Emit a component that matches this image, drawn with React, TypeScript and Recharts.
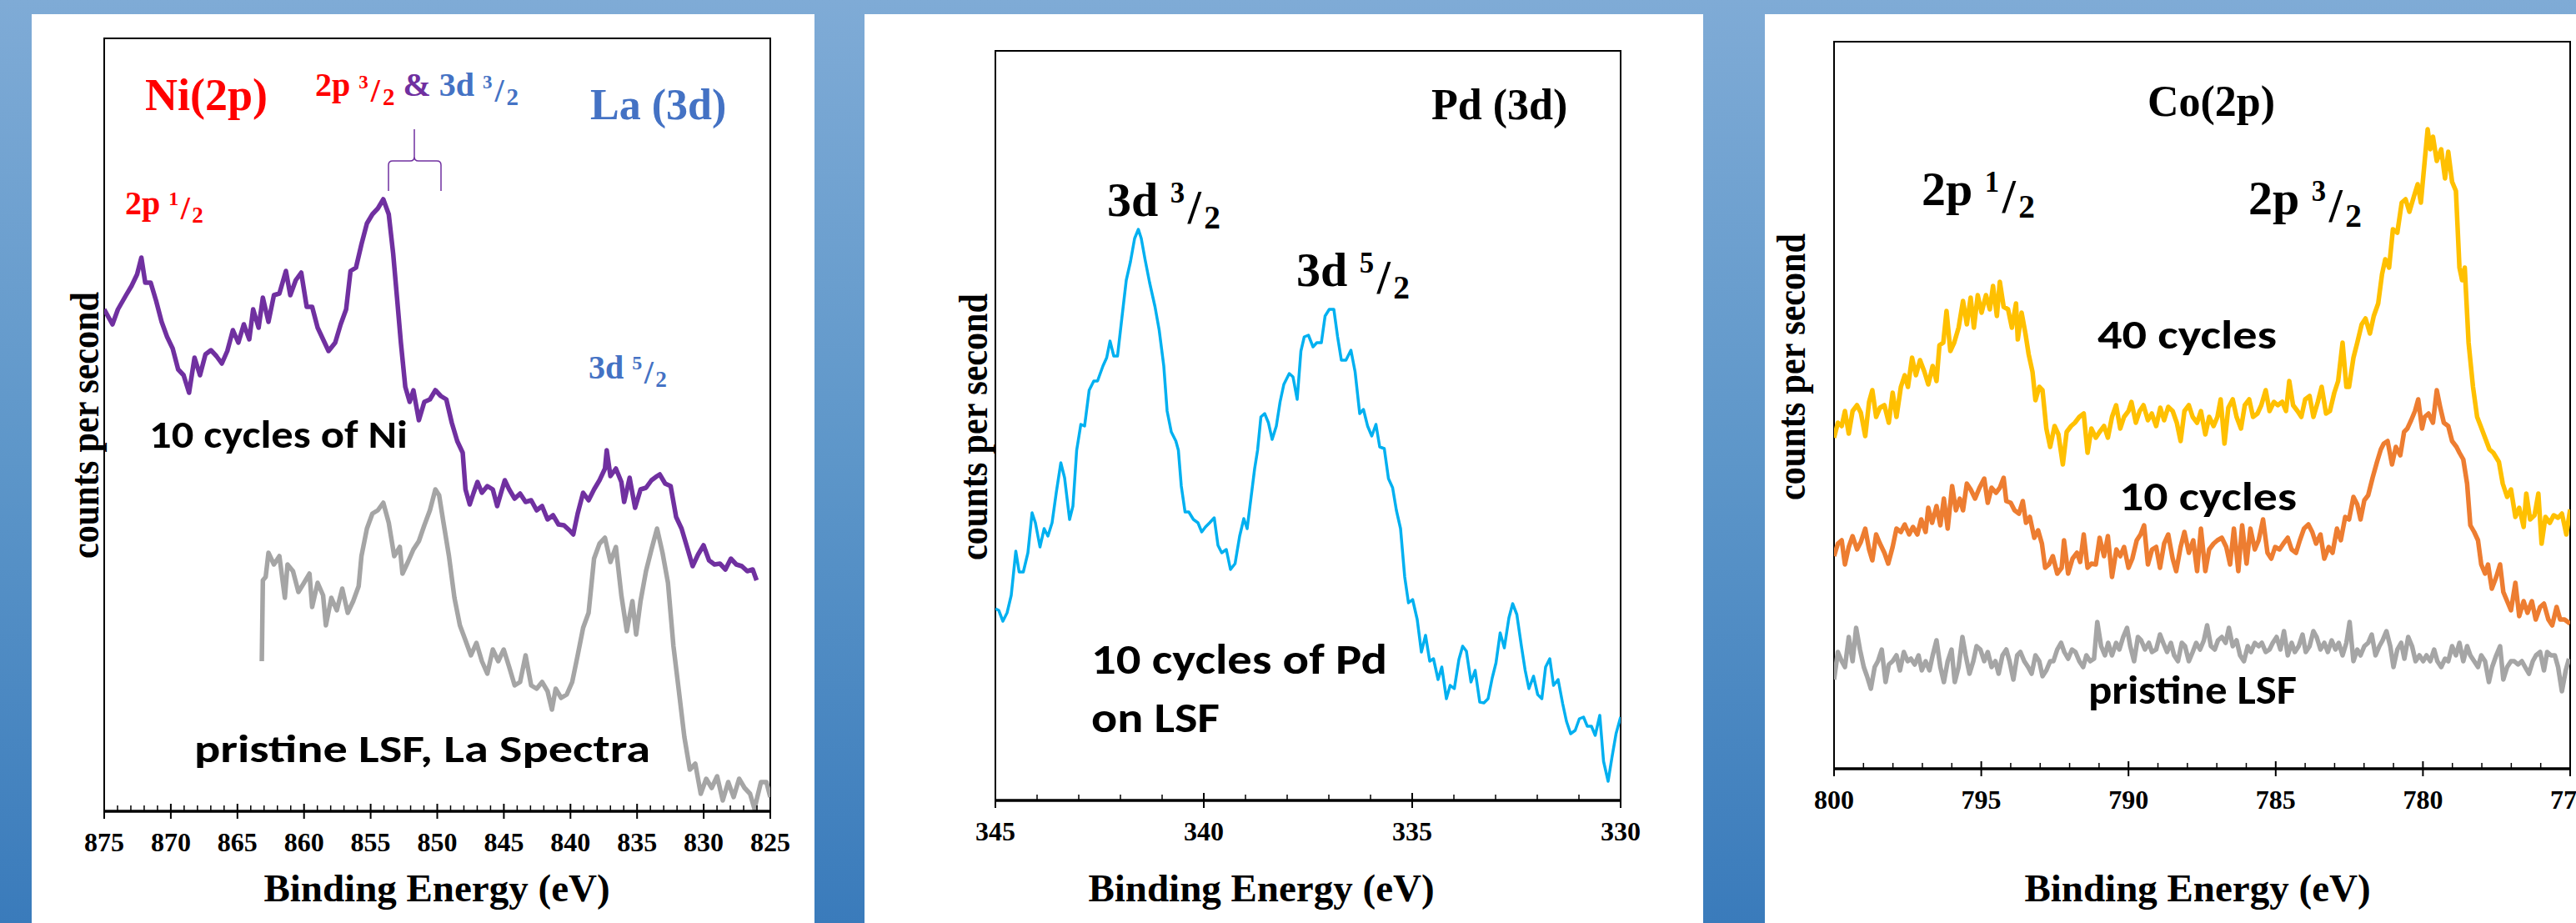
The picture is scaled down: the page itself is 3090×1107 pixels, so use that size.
import React from "react";
import { LineChart, Line, XAxis, YAxis, ReferenceArea } from "recharts";

const SERIF = "'Liberation Serif', 'Times New Roman', serif";
const SANS = "Carlito, Calibri, Lato, 'Open Sans', sans-serif";
const RED = "#FF0000";
const BLUE = "#4472C4";
const PURPLE = "#7030A0";

// [binding energy (eV), counts]
const niCycles: [number, number][] = [
  [875.0, 602], [874.38, 584], [873.97, 602], [873.36, 619], [872.95, 630], [872.53, 644], [872.21, 664],
  [871.92, 634], [871.51, 634], [871.1, 612], [870.69, 587], [870.28, 569], [869.86, 555], [869.45, 530],
  [869.04, 523], [868.63, 502], [868.22, 544], [867.81, 523], [867.4, 548], [866.99, 553], [866.58, 546],
  [866.17, 537], [865.76, 552], [865.34, 577], [864.93, 562], [864.52, 584], [864.11, 566], [863.82, 602],
  [863.41, 580], [863.09, 616], [862.67, 587], [862.26, 619], [861.85, 621], [861.36, 648], [861.03, 619],
  [860.62, 637], [860.21, 646], [859.8, 605], [859.39, 605], [858.98, 580], [858.57, 566], [858.16, 552],
  [857.66, 562], [857.25, 584], [856.84, 602], [856.51, 648], [856.1, 652], [855.69, 680], [855.28, 705],
  [854.87, 716], [854.46, 723], [854.05, 734], [853.64, 716], [853.31, 669], [853.02, 616], [852.73, 562],
  [852.4, 509], [852.07, 491], [851.79, 505], [851.38, 469], [850.97, 491], [850.55, 494], [850.14, 505],
  [849.73, 498], [849.32, 494], [848.91, 466], [848.5, 444], [848.09, 430], [847.88, 386], [847.56, 368],
  [847.27, 382], [846.98, 395], [846.65, 382], [846.24, 390], [845.83, 386], [845.5, 366], [845.21, 382],
  [844.93, 397], [844.6, 386], [844.19, 375], [843.78, 381], [843.37, 371], [842.95, 373], [842.54, 361],
  [842.13, 366], [841.72, 350], [841.31, 355], [840.9, 344], [840.49, 343], [840.08, 337], [839.79, 332],
  [839.46, 357], [839.05, 382], [838.64, 373], [838.23, 386], [837.82, 397], [837.41, 411], [837.28, 433],
  [837.0, 402], [836.59, 411], [836.18, 395], [835.97, 371], [835.56, 400], [835.15, 364], [834.74, 386],
  [834.33, 388], [833.92, 397], [833.5, 402], [833.3, 404], [832.89, 393], [832.48, 390], [832.07, 353],
  [831.66, 339], [831.25, 317], [830.83, 294], [830.42, 308], [830.01, 319], [829.6, 301], [829.19, 296],
  [828.78, 297], [828.37, 290], [827.96, 303], [827.55, 296], [827.14, 294], [826.73, 288], [826.32, 290],
  [826.03, 277],
];

const laPristine: [number, number][] = [
  [863.17, 180], [863.09, 277], [862.88, 281], [862.67, 310], [862.26, 296], [861.85, 306], [861.44, 256],
  [861.24, 296], [860.83, 288], [860.42, 263], [860.0, 274], [859.59, 285], [859.39, 245], [858.98, 274],
  [858.57, 259], [858.36, 223], [857.95, 256], [857.54, 241], [857.13, 267], [856.72, 238], [856.31, 252],
  [855.9, 270], [855.69, 306], [855.28, 339], [854.87, 357], [854.46, 361], [854.05, 370], [853.64, 346],
  [853.23, 306], [852.81, 317], [852.61, 285], [852.2, 299], [851.79, 314], [851.38, 324], [850.97, 343],
  [850.55, 361], [850.14, 386], [849.86, 379], [849.53, 346], [849.12, 306], [848.71, 256], [848.3, 223],
  [847.88, 205], [847.47, 187], [847.06, 202], [846.65, 180], [846.24, 165], [845.83, 194], [845.42, 180],
  [845.01, 194], [844.6, 173], [844.19, 151], [843.78, 155], [843.37, 187], [842.95, 151], [842.54, 147],
  [842.13, 155], [841.72, 144], [841.39, 122], [841.11, 147], [840.7, 136], [840.28, 140], [839.87, 155],
  [839.46, 187], [839.05, 220], [838.64, 238], [838.23, 303], [837.82, 321], [837.41, 328], [837.0, 299],
  [836.59, 317], [836.18, 259], [835.77, 216], [835.35, 252], [835.07, 212], [834.74, 252], [834.33, 288],
  [833.92, 314], [833.5, 339], [833.09, 310], [832.68, 274], [832.27, 198], [831.86, 144], [831.45, 89],
  [831.04, 50], [830.63, 57], [830.22, 21], [829.81, 39], [829.4, 28], [828.99, 42], [828.57, 13],
  [828.16, 35], [827.75, 17], [827.34, 39], [826.93, 28], [826.52, 21], [826.19, 3], [825.7, 35],
  [825.29, 35], [825.0, 17],
];

const pdCycles: [number, number][] = [
  [345.0, 230], [344.92, 228], [344.82, 215], [344.72, 225], [344.62, 246], [344.51, 299], [344.43, 274],
  [344.33, 274], [344.22, 297], [344.12, 345], [344.04, 333], [343.93, 304], [343.83, 326], [343.74, 317],
  [343.64, 333], [343.54, 369], [343.43, 405], [343.34, 387], [343.22, 337], [343.14, 353], [343.05, 420],
  [342.95, 451], [342.86, 449], [342.75, 492], [342.64, 503], [342.55, 503], [342.42, 521], [342.33, 531],
  [342.25, 551], [342.16, 533], [342.07, 533], [341.96, 581], [341.86, 624], [341.76, 646], [341.66, 674],
  [341.57, 685], [341.5, 674], [341.41, 649], [341.3, 621], [341.17, 592], [341.07, 564], [340.96, 521],
  [340.88, 467], [340.78, 442], [340.67, 431], [340.61, 420], [340.54, 377], [340.45, 346], [340.36, 346],
  [340.25, 337], [340.14, 333], [340.05, 322], [339.96, 328], [339.86, 333], [339.75, 339], [339.66, 306],
  [339.57, 297], [339.46, 301], [339.36, 277], [339.25, 284], [339.14, 317], [339.04, 338], [338.96, 326],
  [338.87, 362], [338.78, 398], [338.71, 420], [338.63, 460], [338.54, 464], [338.45, 453], [338.36, 433],
  [338.26, 449], [338.17, 478], [338.08, 499], [337.95, 512], [337.86, 508], [337.76, 481], [337.67, 539],
  [337.59, 556], [337.49, 558], [337.38, 544], [337.29, 549], [337.18, 549], [337.09, 581], [336.99, 589],
  [336.88, 589], [336.79, 556], [336.7, 528], [336.59, 528], [336.47, 540], [336.37, 514], [336.26, 464],
  [336.17, 469], [336.07, 449], [335.97, 437], [335.87, 451], [335.78, 424], [335.67, 422], [335.57, 386],
  [335.47, 375], [335.38, 348], [335.28, 326], [335.18, 268], [335.09, 237], [334.99, 241], [334.88, 217],
  [334.78, 178], [334.68, 198], [334.58, 167], [334.49, 170], [334.38, 145], [334.29, 160], [334.18, 122],
  [334.09, 138], [333.99, 134], [333.88, 169], [333.79, 185], [333.7, 179], [333.59, 142], [333.49, 156],
  [333.38, 118], [333.28, 117], [333.18, 122], [333.08, 147], [332.99, 165], [332.89, 201], [332.79, 183],
  [332.68, 219], [332.59, 236], [332.49, 223], [332.38, 185], [332.29, 156], [332.2, 134], [332.09, 149],
  [331.99, 127], [331.89, 122], [331.8, 160], [331.7, 170], [331.61, 138], [331.5, 145], [331.39, 116],
  [331.3, 95], [331.2, 80], [331.09, 84], [330.99, 98], [330.89, 100], [330.8, 89], [330.7, 89],
  [330.61, 78], [330.5, 102], [330.41, 47], [330.3, 23], [330.21, 51], [330.11, 80], [330.0, 100],
];

const co40: [number, number][] = [
  [800.0, 397], [799.87, 415], [799.74, 411], [799.63, 429], [799.5, 402], [799.37, 429], [799.22, 436],
  [799.09, 427], [798.94, 399], [798.81, 440], [798.7, 454], [798.57, 422], [798.44, 433], [798.29, 436],
  [798.14, 415], [798.01, 451], [797.88, 422], [797.73, 458], [797.6, 472], [797.49, 458], [797.35, 493],
  [797.22, 472], [797.08, 490], [796.93, 476], [796.8, 461], [796.65, 483], [796.52, 465], [796.42, 508],
  [796.29, 511], [796.18, 549], [796.05, 501], [795.92, 511], [795.77, 529], [795.62, 561], [795.49, 533],
  [795.36, 565], [795.25, 529], [795.12, 568], [794.99, 547], [794.84, 568], [794.71, 551], [794.6, 579],
  [794.47, 543], [794.37, 584], [794.24, 554], [794.09, 551], [793.96, 529], [793.82, 558], [793.76, 515],
  [793.63, 547], [793.5, 522], [793.39, 497], [793.26, 476], [793.16, 442], [793.03, 458], [792.92, 454],
  [792.79, 408], [792.66, 386], [792.51, 411], [792.38, 401], [792.23, 365], [792.1, 404], [791.95, 411],
  [791.82, 415], [791.67, 422], [791.52, 426], [791.39, 379], [791.26, 408], [791.11, 397], [790.98, 404],
  [790.83, 411], [790.7, 397], [790.56, 422], [790.42, 436], [790.28, 408], [790.15, 422], [790.0, 429],
  [789.9, 440], [789.75, 415], [789.62, 429], [789.49, 436], [789.34, 418], [789.21, 426], [789.06, 411],
  [788.92, 433], [788.79, 418], [788.65, 434], [788.5, 429], [788.36, 415], [788.23, 393], [788.1, 429],
  [787.95, 436], [787.82, 422], [787.67, 415], [787.54, 429], [787.39, 401], [787.26, 422], [787.11, 411],
  [786.98, 422], [786.87, 443], [786.74, 390], [786.61, 433], [786.46, 443], [786.33, 422], [786.18, 408],
  [786.05, 436], [785.9, 443], [785.77, 422], [785.62, 426], [785.49, 436], [785.34, 454], [785.21, 429],
  [785.06, 440], [784.93, 436], [784.78, 440], [784.65, 429], [784.54, 465], [784.41, 436], [784.26, 429],
  [784.13, 422], [784.0, 443], [783.85, 447], [783.72, 422], [783.57, 440], [783.44, 458], [783.29, 426],
  [783.16, 429], [783.01, 451], [782.88, 465], [782.73, 511], [782.6, 458], [782.51, 458], [782.36, 493],
  [782.23, 511], [782.08, 533], [781.95, 540], [781.8, 522], [781.67, 543], [781.52, 558], [781.39, 593],
  [781.28, 611], [781.15, 601], [781.02, 647], [780.87, 643], [780.72, 679], [780.59, 683], [780.46, 668],
  [780.31, 686], [780.18, 701], [780.07, 679], [779.94, 729], [779.84, 767], [779.75, 743], [779.66, 758],
  [779.53, 729], [779.38, 743], [779.25, 708], [779.14, 740], [779.01, 704], [778.88, 693], [778.76, 601],
  [778.67, 586], [778.58, 601], [778.45, 511], [778.3, 458], [778.16, 422], [778.04, 411], [777.89, 397],
  [777.74, 383], [777.61, 379], [777.42, 368], [777.29, 342], [777.14, 326], [777.01, 335], [776.86, 302],
  [776.73, 313], [776.58, 290], [776.49, 330], [776.36, 299], [776.21, 304], [776.08, 330], [775.97, 270],
  [775.84, 302], [775.69, 295], [775.56, 304], [775.41, 301], [775.28, 306], [775.13, 281], [775.0, 311],
];

const co10: [number, number][] = [
  [800.0, 255], [799.87, 270], [799.74, 274], [799.63, 245], [799.5, 266], [799.37, 279], [799.22, 263],
  [799.09, 272], [798.94, 288], [798.81, 263], [798.7, 250], [798.57, 281], [798.44, 270], [798.29, 259],
  [798.16, 246], [798.01, 266], [797.88, 288], [797.73, 284], [797.6, 293], [797.45, 281], [797.32, 290],
  [797.17, 281], [797.04, 299], [796.89, 284], [796.8, 313], [796.67, 295], [796.52, 315], [796.39, 292],
  [796.27, 324], [796.14, 288], [795.99, 339], [795.86, 310], [795.73, 324], [795.62, 310], [795.49, 342],
  [795.36, 335], [795.21, 324], [795.06, 337], [794.9, 348], [794.78, 319], [794.65, 337], [794.5, 331],
  [794.37, 337], [794.24, 349], [794.15, 321], [794.0, 319], [793.87, 310], [793.72, 306], [793.59, 321],
  [793.48, 295], [793.35, 302], [793.2, 277], [793.07, 286], [792.94, 270], [792.83, 241], [792.7, 245],
  [792.57, 255], [792.42, 234], [792.27, 241], [792.19, 274], [792.05, 234], [791.9, 252], [791.75, 259],
  [791.64, 248], [791.52, 281], [791.39, 241], [791.26, 246], [791.11, 245], [790.98, 277], [790.83, 255],
  [790.7, 279], [790.56, 230], [790.41, 263], [790.28, 255], [790.15, 266], [790.0, 241], [789.87, 252],
  [789.72, 274], [789.59, 281], [789.47, 292], [789.34, 245], [789.2, 263], [789.06, 266], [788.93, 241],
  [788.79, 270], [788.65, 281], [788.5, 252], [788.38, 237], [788.23, 266], [788.1, 284], [787.95, 259],
  [787.8, 274], [787.67, 237], [787.54, 288], [787.39, 237], [787.26, 263], [787.11, 270], [786.98, 274],
  [786.83, 277], [786.68, 266], [786.55, 245], [786.42, 288], [786.27, 237], [786.14, 292], [785.99, 246],
  [785.86, 288], [785.71, 263], [785.58, 274], [785.43, 299], [785.28, 259], [785.15, 252], [785.02, 266],
  [784.87, 263], [784.74, 270], [784.59, 277], [784.46, 263], [784.31, 259], [784.18, 274], [784.04, 288],
  [783.89, 293], [783.76, 284], [783.63, 270], [783.48, 281], [783.35, 252], [783.2, 266], [783.07, 259],
  [782.92, 288], [782.79, 274], [782.64, 302], [782.51, 299], [782.36, 326], [782.23, 317], [782.12, 299],
  [781.99, 322], [781.86, 328], [781.71, 349], [781.56, 368], [781.43, 383], [781.33, 390], [781.2, 393],
  [781.05, 365], [780.92, 386], [780.77, 376], [780.64, 404], [780.53, 408], [780.4, 418], [780.27, 429],
  [780.16, 443], [780.03, 408], [779.94, 422], [779.81, 426], [779.66, 415], [779.53, 454], [779.41, 433],
  [779.29, 415], [779.14, 411], [779.01, 393], [778.86, 386], [778.76, 379], [778.63, 371], [778.5, 342],
  [778.39, 292], [778.26, 284], [778.13, 274], [778.02, 245], [777.89, 234], [777.79, 245], [777.66, 216],
  [777.51, 230], [777.38, 245], [777.27, 212], [777.14, 201], [777.01, 190], [776.86, 223], [776.73, 183],
  [776.58, 201], [776.45, 187], [776.3, 201], [776.17, 179], [776.02, 194], [775.89, 198], [775.74, 179],
  [775.61, 172], [775.46, 194], [775.34, 179], [775.19, 179], [775.0, 174],
];

const coPristine: [number, number][] = [
  [800.0, 107], [799.87, 140], [799.74, 129], [799.63, 122], [799.5, 158], [799.37, 129], [799.25, 169],
  [799.12, 143], [798.99, 122], [798.88, 111], [798.75, 96], [798.62, 122], [798.51, 129], [798.38, 143],
  [798.25, 104], [798.14, 125], [798.01, 129], [797.88, 136], [797.76, 118], [797.63, 140], [797.5, 129],
  [797.39, 132], [797.26, 125], [797.13, 136], [797.02, 118], [796.89, 129], [796.76, 118], [796.65, 136],
  [796.52, 154], [796.39, 122], [796.27, 104], [796.14, 129], [796.01, 143], [795.9, 104], [795.77, 122],
  [795.64, 158], [795.53, 136], [795.4, 114], [795.27, 129], [795.16, 147], [795.03, 143], [794.9, 129],
  [794.78, 140], [794.65, 122], [794.52, 129], [794.41, 114], [794.28, 136], [794.15, 143], [794.04, 129],
  [793.91, 107], [793.78, 136], [793.67, 140], [793.54, 129], [793.41, 122], [793.29, 114], [793.16, 136],
  [793.03, 129], [792.92, 111], [792.79, 118], [792.66, 129], [792.55, 129], [792.42, 143], [792.29, 151],
  [792.18, 140], [792.05, 132], [791.92, 143], [791.8, 140], [791.67, 129], [791.54, 122], [791.43, 136],
  [791.3, 129], [791.17, 132], [791.06, 176], [790.93, 147], [790.8, 136], [790.69, 151], [790.56, 136],
  [790.42, 151], [790.31, 143], [790.18, 158], [790.05, 169], [789.94, 147], [789.81, 129], [789.68, 158],
  [789.57, 154], [789.44, 143], [789.31, 151], [789.2, 140], [789.06, 143], [788.93, 161], [788.82, 151],
  [788.69, 140], [788.56, 151], [788.45, 136], [788.32, 129], [788.19, 151], [788.08, 147], [787.95, 129],
  [787.82, 140], [787.7, 151], [787.57, 143], [787.44, 154], [787.33, 172], [787.2, 147], [787.07, 143],
  [786.96, 154], [786.83, 158], [786.7, 151], [786.59, 169], [786.46, 147], [786.33, 154], [786.21, 136],
  [786.08, 129], [785.95, 147], [785.84, 140], [785.71, 151], [785.58, 147], [785.47, 151], [785.34, 140],
  [785.21, 143], [785.1, 151], [784.97, 158], [784.84, 143], [784.72, 165], [784.59, 136], [784.46, 151],
  [784.35, 140], [784.22, 147], [784.09, 161], [783.98, 140], [783.85, 147], [783.72, 165], [783.61, 158],
  [783.48, 143], [783.35, 151], [783.23, 140], [783.1, 154], [782.97, 143], [782.86, 151], [782.73, 136],
  [782.6, 151], [782.49, 176], [782.36, 129], [782.23, 143], [782.12, 136], [781.99, 147], [781.86, 151],
  [781.74, 161], [781.61, 136], [781.48, 147], [781.37, 154], [781.24, 165], [781.11, 147], [781.0, 122],
  [780.87, 143], [780.74, 151], [780.63, 132], [780.5, 158], [780.37, 147], [780.25, 129], [780.12, 136],
  [779.99, 129], [779.88, 136], [779.75, 129], [779.62, 143], [779.51, 129], [779.38, 122], [779.25, 132],
  [779.14, 129], [779.01, 147], [778.88, 136], [778.76, 151], [778.63, 129], [778.5, 147], [778.39, 136],
  [778.26, 129], [778.13, 122], [778.02, 136], [777.89, 129], [777.76, 104], [777.65, 122], [777.51, 136],
  [777.38, 147], [777.27, 107], [777.14, 122], [777.01, 129], [776.9, 129], [776.77, 125], [776.64, 129],
  [776.53, 122], [776.4, 114], [776.27, 129], [776.16, 136], [776.02, 140], [775.89, 118], [775.78, 140],
  [775.65, 136], [775.52, 136], [775.41, 122], [775.28, 93], [775.15, 118], [775.04, 132],
];

const niMajorTicks = [875, 870, 865, 860, 855, 850, 845, 840, 835, 830, 825];
const pdMajorTicks = [345, 340, 335, 330];
const coMajorTicks = [800, 795, 790, 785, 780, 775];

// minor ticks every 1 eV between the labelled ones
const everyEv = (major: number[]) => {
  const lo = Math.min(...major);
  const hi = Math.max(...major);
  return Array.from({ length: hi - lo + 1 }, (_, i) => lo + i);
};

const rows = (pts: [number, number][]) => pts.map(([ev, cps]) => ({ ev, cps }));

function EvTick(props: any) {
  const { x, y, payload } = props;
  const v = payload.value;
  if (v % 5 !== 0) {
    return <line x1={x} x2={x} y1={y - 7} y2={y} stroke="#000" strokeWidth={1.5} />;
  }
  return (
    <g>
      <line x1={x} x2={x} y1={y - 9} y2={y + 9} stroke="#000" strokeWidth={2} />
      <text x={x} y={y + 48} textAnchor="middle" fontFamily={SERIF} fontWeight="bold" fontSize={32} fill="#000">
        {v}
      </text>
    </g>
  );
}

// e.g. "3d" followed by 3/2 as superscript / subscript
function Level({ x, y, size, shell, num, den, fill = "#000" }: any) {
  return (
    <text x={x} y={y} fontFamily={SERIF} fontWeight="bold" fontSize={size} fill={fill}>
      {shell + " "}
      <tspan fontSize={size * 0.6} dy={-size * 0.27}>{num}</tspan>
      <tspan dx={size * 0.06} dy={size * 0.42}>/</tspan>
      <tspan fontSize={size * 0.68} dx={size * 0.06} dy={size * 0.1}>{den}</tspan>
    </text>
  );
}

function CountsLabel({ x, y }: { x: number; y: number }) {
  return (
    <text
      transform={`translate(${x},${y}) rotate(-90)`}
      textAnchor="middle"
      fontFamily={SERIF}
      fontWeight="bold"
      fontSize={48}
      textLength={320}
      lengthAdjust="spacingAndGlyphs"
      fill="#000"
    >
      counts per second
    </text>
  );
}

function AxisTitle({ x }: { x: number }) {
  return (
    <text x={x} y={1064} textAnchor="middle" fontFamily={SERIF} fontWeight="bold" fontSize={47} fill="#000">
      Binding Energy (eV)
    </text>
  );
}

function Note({ x, y, w, size, children }: any) {
  return (
    <text x={x} y={y} fontFamily={SANS} fontWeight="bold" fontSize={size} textLength={w} lengthAdjust="spacingAndGlyphs" fill="#000">
      {children}
    </text>
  );
}

function Spectrum({ width, margin, domain, ticks, yMax, series }: any) {
  return (
    <LineChart width={width} height={1090} margin={margin}>
      <XAxis
        type="number"
        dataKey="ev"
        domain={domain}
        reversed
        allowDataOverflow
        ticks={everyEv(ticks)}
        interval={0}
        tickSize={0}
        tickMargin={0}
        tickLine={false}
        tick={EvTick}
        axisLine={{ stroke: "#000", strokeWidth: 3.5 }}
        height={60}
      />
      <YAxis hide type="number" domain={[0, yMax]} allowDataOverflow />
      <ReferenceArea x1={domain[0]} x2={domain[1]} y1={0} y2={yMax} fill="none" fillOpacity={0} stroke="#000" strokeWidth={2} />
      {series.map((s: any) => (
        <Line
          key={s.name}
          data={rows(s.points)}
          dataKey="cps"
          type="linear"
          stroke={s.color}
          strokeWidth={s.width}
          strokeLinejoin="round"
          dot={false}
          isAnimationActive={false}
        />
      ))}
    </LineChart>
  );
}

const panelStyle = (left: number, width: number): React.CSSProperties => ({
  position: "absolute",
  left,
  top: 17,
  width,
  height: 1090,
  background: "#fff",
  overflow: "hidden",
});

const overlay: React.CSSProperties = { position: "absolute", left: 0, top: 0, pointerEvents: "none" };

function NiPanel() {
  return (
    <div style={panelStyle(38, 939)}>
      <Spectrum
        width={939}
        margin={{ top: 29, right: 53, bottom: 74, left: 87 }}
        domain={[825, 875]}
        ticks={niMajorTicks}
        yMax={927}
        series={[
          { name: "ni", points: niCycles, color: PURPLE, width: 5.5 },
          { name: "la", points: laPristine, color: "#A5A5A5", width: 5.5 },
        ]}
      />
      <svg width={939} height={1090} style={overlay}>
        <CountsLabel x={80} y={493} />
        <AxisTitle x={486} />
        <text x={136} y={115} fontFamily={SERIF} fontWeight="bold" fontSize={54} fill={RED}>Ni(2p)</text>
        <text x={340} y={98} fontFamily={SERIF} fontWeight="bold" fontSize={40}>
          <tspan fill={RED}>2p </tspan>
          <tspan fill={RED} fontSize={23} dy={-9}>3</tspan>
          <tspan fill={RED} dx={3} dy={16}>/</tspan>
          <tspan fill={RED} fontSize={29} dx={3} dy={4}>2</tspan>
          <tspan fill={PURPLE} dy={-11}> &amp; </tspan>
          <tspan fill={BLUE}>3d </tspan>
          <tspan fill={BLUE} fontSize={23} dy={-9}>3</tspan>
          <tspan fill={BLUE} dx={3} dy={16}>/</tspan>
          <tspan fill={BLUE} fontSize={29} dx={3} dy={4}>2</tspan>
        </text>
        <text x={670} y={126} fontFamily={SERIF} fontWeight="bold" fontSize={52} fill={BLUE}>La (3d)</text>
        <path
          d="M428,212 L428,181 Q428,176 433,176 L454,176 Q459,176 459,171 L459,138 M459,171 Q459,176 464,176 L486,176 Q491,176 491,181 L491,212"
          fill="none"
          stroke={PURPLE}
          strokeWidth={1.5}
        />
        <Level x={112} y={240} size={40} shell="2p" num="1" den="2" fill={RED} />
        <Level x={668} y={437} size={40} shell="3d" num="5" den="2" fill={BLUE} />
        <Note x={141} y={520} w={310} size={47}>10 cycles of Ni</Note>
        <Note x={195} y={897} w={547} size={47}>pristine LSF, La Spectra</Note>
      </svg>
    </div>
  );
}

function PdPanel() {
  return (
    <div style={panelStyle(1037, 1006)}>
      <Spectrum
        width={1006}
        margin={{ top: 44, right: 99, bottom: 87, left: 157 }}
        domain={[330, 345]}
        ticks={pdMajorTicks}
        yMax={899}
        series={[{ name: "pd", points: pdCycles, color: "#00B0F0", width: 3.5 }]}
      />
      <svg width={1006} height={1090} style={overlay}>
        <CountsLabel x={147} y={495} />
        <AxisTitle x={476} />
        <text x={680} y={126} fontFamily={SERIF} fontWeight="bold" fontSize={52} fill="#000">Pd (3d)</text>
        <Level x={291} y={242} size={58} shell="3d" num="3" den="2" />
        <Level x={518} y={326} size={58} shell="3d" num="5" den="2" />
        <Note x={272} y={791} w={355} size={50}>10 cycles of Pd</Note>
        <Note x={272} y={861} w={154} size={50}>on LSF</Note>
      </svg>
    </div>
  );
}

function CoPanel() {
  return (
    <div style={panelStyle(2117, 973)}>
      <Spectrum
        width={973}
        margin={{ top: 33, right: 7, bottom: 125, left: 83 }}
        domain={[775, 800]}
        ticks={coMajorTicks}
        yMax={872}
        series={[
          { name: "c40", points: co40, color: "#FFC000", width: 5.5 },
          { name: "c10", points: co10, color: "#ED7D31", width: 5.5 },
          { name: "lsf", points: coPristine, color: "#A5A5A5", width: 5.5 },
        ]}
      />
      <svg width={973} height={1090} style={overlay}>
        <CountsLabel x={48} y={423} />
        <AxisTitle x={519} />
        <text x={459} y={122} fontFamily={SERIF} fontWeight="bold" fontSize={52} fill="#000">Co(2p)</text>
        <Level x={188} y={229} size={58} shell="2p" num="1" den="2" />
        <Level x={580} y={240} size={58} shell="2p" num="3" den="2" />
        <Note x={399} y={401} w={215} size={48}>40 cycles</Note>
        <Note x={425} y={595} w={213} size={48}>10 cycles</Note>
        <Note x={388} y={827} w={250} size={48}>pristine LSF</Note>
      </svg>
    </div>
  );
}

export default function App() {
  return (
    <div
      style={{
        position: "absolute",
        left: 0,
        top: 0,
        width: 3090,
        height: 1107,
        overflow: "hidden",
        background: "linear-gradient(to bottom, #7fabd6 0%, #5d96c9 50%, #3a7bbb 100%)",
      }}
    >
      <NiPanel />
      <PdPanel />
      <CoPanel />
    </div>
  );
}
